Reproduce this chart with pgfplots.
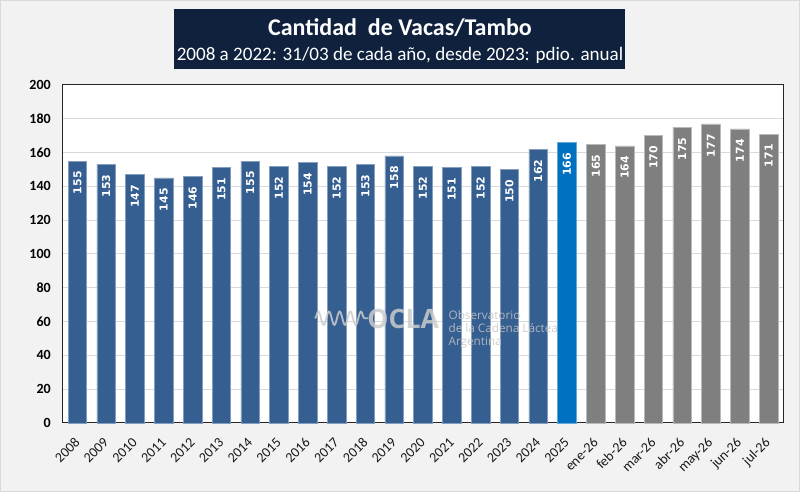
\documentclass[border=0pt]{standalone}
\usepackage{fontspec}
\setmainfont{Carlito}
\newfontfamily\vfont{DejaVu Sans}
\newfontfamily\wfont{Open Sans}
\usepackage{pgfplots}
\pgfplotsset{compat=1.18}
\usetikzlibrary{decorations.pathmorphing}
\definecolor{bblue}{HTML}{355E91}
\definecolor{nblue}{HTML}{0070C0}
\definecolor{bgray}{HTML}{7F7F7F}
\definecolor{navy}{HTML}{0F213D}
\definecolor{bg}{HTML}{F2F2F2}
\definecolor{gridc}{HTML}{D9D9D9}
\begin{document}
\begin{tikzpicture}
\fill[bg] (0,0) rectangle (600pt,369pt);
\draw[gridc, line width=0.75pt] (0.375pt,0.375pt) rectangle (599.625pt,368.625pt);
\useasboundingbox (0,0) rectangle (600pt,369pt);
\fill[navy] (130.5pt,317.25pt) rectangle (468.75pt,362.25pt);
\node[anchor=base, white, inner sep=0pt, font=\fontsize{18pt}{20pt}\selectfont\bfseries] at (300pt,342pt) {Cantidad\ \ de Vacas/Tambo};
\node[anchor=base, white, inner sep=0pt, font=\fontsize{14.3pt}{16pt}\selectfont] at (300pt,323.25pt) {2008 a 2022: 31/03 de cada año, desde 2023: pdio. anual};
\begin{axis}[at={(47.25pt,51.75pt)}, anchor=south west,
  width=540pt, height=253.5pt, scale only axis,
  xmin=-0.5, xmax=24.5, ymin=0, ymax=200,
  ytick={0,20,...,200},
  xtick={0,...,24},
  xticklabels={2008,2009,2010,2011,2012,2013,2014,2015,2016,2017,2018,2019,2020,2021,2022,2023,2024,2025,ene-26,feb-26,mar-26,abr-26,may-26,jun-26,jul-26},
  axis background/.style={fill=white},
  ymajorgrids, grid style={gridc, line width=0.75pt},
  major tick length=0pt,
  axis line style={black!85, line width=0.75pt},
  /pgf/number format/assume math mode=true,
  yticklabel style={font=\fontsize{10.5pt}{12pt}\selectfont\bfseries, inner sep=0pt, text=black},
  yticklabel shift=9pt,
  xticklabel style={font=\fontsize{10.5pt}{12pt}\selectfont, rotate=45, anchor=east, inner sep=0pt, text=black!90},
  xticklabel shift=13pt,
  ybar, bar width=0.65, bar shift=0pt,
  nodes near coords,
  nodes near coords style={font=\vfont\bfseries\fontsize{8.2pt}{9pt}\selectfont, text=white, rotate=90, anchor=east, inner xsep=7.5pt, inner ysep=0pt},
  clip=false,
]
\addplot[fill=bblue, draw=bblue!60!white, line width=0.5pt] coordinates {
(0,155) (1,153) (2,147) (3,145) (4,146) (5,151) (6,155) (7,152) (8,154) (9,152) (10,153) (11,158) (12,152) (13,151) (14,152) (15,150) (16,162)};
\addplot[fill=nblue, draw=nblue!60!white, line width=0.5pt] coordinates {(17,166)};
\addplot[fill=bgray, draw=bgray!55!white, line width=0.5pt] coordinates {
(18,165) (19,164) (20,170) (21,175) (22,177) (23,174) (24,171)};
\node[font=\wfont\bfseries\fontsize{20pt}{21pt}\selectfont, text=gray!40, opacity=0.85, inner sep=0pt] at (axis cs:11.31,61.8) {OCLA};
\node[font=\wfont\fontsize{8.8pt}{9pt}\selectfont, text=gray!45, opacity=0.85, inner sep=0pt, anchor=west] at (axis cs:12.88,63.9) {Observatorio};
\node[font=\wfont\fontsize{8.8pt}{9pt}\selectfont, text=gray!45, opacity=0.85, inner sep=0pt, anchor=west] at (axis cs:12.88,56.2) {de la Cadena Láctea};
\node[font=\wfont\fontsize{8.8pt}{9pt}\selectfont, text=gray!45, opacity=0.85, inner sep=0pt, anchor=west] at (axis cs:12.88,47.3) {Argentina};
\draw[gray!40, opacity=0.85, line width=1.4pt, decorate, decoration={snake, amplitude=5pt, segment length=8pt}] (axis cs:8.25,62) -- (axis cs:10.1,62);
\end{axis}
\end{tikzpicture}
\end{document}
